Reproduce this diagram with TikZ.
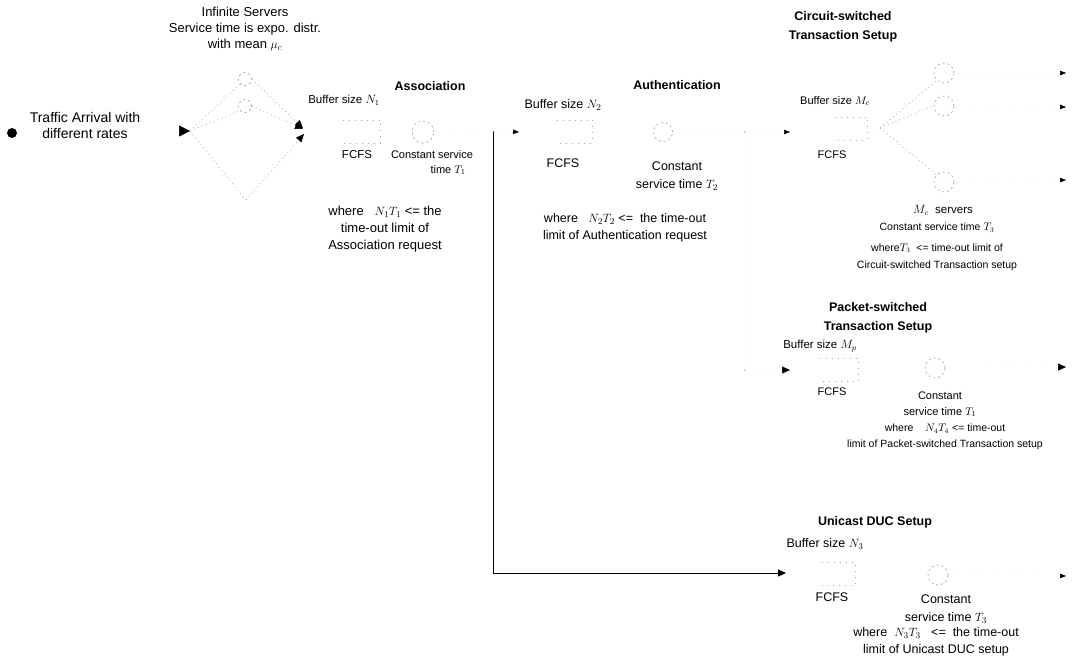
\documentclass[tikz,border=0pt]{standalone}
\usepackage{fontspec}
\setmainfont{Liberation Sans}
\usetikzlibrary{arrows.meta,calc}
\newcommand{\fs}[2]{\fontsize{#1}{#2}\selectfont}
\begin{document}
\begin{tikzpicture}[x=1pt,y=-1pt,
  faint/.style={draw=black!30, line width=0.6pt, dash pattern=on 1.2pt off 3pt},
  ghost/.style={draw=black!6, line width=0.5pt, dash pattern=on 1pt off 4pt},
  qline/.style={draw=black!35, line width=0.6pt, dash pattern=on 1pt off 5pt},
  qbox/.style={rectangle, draw=none, inner sep=0pt, minimum width=#1, minimum height=23pt},
  qbox/.default=36pt,
  server/.style={circle, draw=black!40, line width=0.6pt, dash pattern=on 2pt off 3pt,
                 minimum size=#1, inner sep=0pt},
  server/.default=20pt,
  bigtip/.style={-{Triangle[length=11pt,width=11pt,color=black]}},
  tip/.style={-{Triangle[length=8pt,width=7pt,color=black]}},
  smalltip/.style={-{Triangle[length=6pt,width=4.5pt,color=black]}},
  wire/.style={draw=black, line width=0.9pt},
  txt/.style={inner sep=0pt, align=center},
  ttl/.style={inner sep=0pt, align=center, font=\fs{12.5}{19}\bfseries},
]
\useasboundingbox (0,0) rectangle (1091,664);

% ---------- source and infinite-server stage ----------
\node[circle, fill=black, inner sep=0pt, minimum size=10pt] (src) at (12,133) {};
\node[txt, font=\fs{14}{16}] (arrlbl) at (85,125) {Traffic Arrival with\\different rates};

\coordinate (a0) at (176,131);
\coordinate (ent) at (190,131);
\node[server=13pt] (is1) at (245,79) {};
\node[server=13pt] (is2) at (245,106) {};
\coordinate (isb) at (246,200);
\coordinate (mrg) at (304,131);
\node[txt, font=\fs{13}{16}] (inflbl) at (245,29)
  {Infinite Servers\\Service time is expo. distr.\\with mean $\mu_c$};

\draw[ghost, bigtip] (a0) -- (ent);
\draw[faint] (ent) -- (is1.south west);
\draw[faint] (ent) -- (is2.south west);
\draw[faint] (ent) -- (isb);
\draw[faint, tip] (is1.east) -- ($(mrg)+(-1,-3)$);
\draw[faint, tip] (is2.east) -- ($(mrg)+(-1,-2)$);
\draw[faint, tip] (isb) -- ($(mrg)+(0,3)$);

% ---------- association ----------
\node[ttl] (asst) at (430,86) {Association};
\node[qbox=37pt] (q1) at (361.5,131.5) {};
\draw[qline] (q1.north west) -- (q1.north east) -- (q1.south east) -- (q1.south west);
\node[server=22pt] (s1) at (423,132) {};
\node[txt, font=\fs{11.5}{14}] at (344,100) {Buffer size $N_1$};
\node[txt, font=\fs{11.5}{14}] at (357,155) {FCFS};
\node[txt, font=\fs{11}{14}] at (432,155) {Constant service};
\node[txt, font=\fs{11}{14}] at (448,170) {time $T_1$};
\node[txt, font=\fs{13}{17}] at (385,229)
  {where ~ $N_1T_1$ <= the\\time-out limit of\\Association request};

% ---------- branching line ----------
\coordinate (jn) at (493,131);
\coordinate (jb) at (493,573);
\draw[ghost] (s1.east) -- (jn);
\draw[wire] (jn) -- (jb);

% ---------- authentication ----------
\node[ttl] (autt) at (677,85) {Authentication};
\coordinate (ain) at (519,132);
\draw[ghost, smalltip] (jn) -- (ain);
\node[qbox=35pt] (q2) at (574.5,131.5) {};
\draw[qline] (q2.north west) -- (q2.north east) -- (q2.south east) -- (q2.south west);
\node[server=19pt] (s2) at (663,132) {};
\node[txt, font=\fs{12.5}{14}] at (563,105) {Buffer size $N_2$};
\node[txt, font=\fs{12.5}{14}] at (563,163) {FCFS};
\node[txt, font=\fs{12.5}{18}] at (677,176) {Constant\\service time $T_2$};
\node[txt, font=\fs{12.5}{17}] at (625,228)
  {where ~ $N_2T_2$ <= ~the time-out\\limit of Authentication request};

\coordinate (sp) at (745,132);
\coordinate (cin) at (790,132);
\coordinate (sp2) at (745,370);
\coordinate (pin) at (790,370);
\draw[ghost] (s2.east) -- (sp);
\fill[black!35] (sp) circle (0.8pt);
\fill[black!35] (sp2) circle (0.8pt);
\draw[ghost, smalltip] (sp) -- (cin);
\draw[ghost] (sp) -- (sp2);
\draw[ghost, tip] (sp2) -- (pin);

% ---------- circuit-switched transaction setup ----------
\node[ttl] (cst) at (843,27) {Circuit-switched\\Transaction Setup};
\node[qbox=32pt] (q3) at (851,128.5) {};
\draw[qline] (q3.north west) -- (q3.north east) -- (q3.south east) -- (q3.south west);
\coordinate (fan) at (880,128);
\node[server] (c1) at (944,73) {};
\node[server] (c2) at (944,106) {};
\node[server] (c3) at (944,182) {};
\draw[ghost] (q3.east) -- (fan);
\draw[faint] (fan) -- (c1.south west);
\draw[faint] (fan) -- (c2.west);
\draw[faint] (fan) -- (c3.north west);
\coordinate (co1) at (1066,73);
\coordinate (co2) at (1066,107);
\coordinate (co3) at (1066,180);
\draw[ghost, smalltip] (c1.east) -- (co1);
\draw[ghost, smalltip] (c2.east) -- (co2);
\draw[ghost, smalltip] (c3.east) -- (co3);
\node[txt, font=\fs{11}{14}] at (835,101) {Buffer size $M_c$};
\node[txt, font=\fs{11}{14}] at (832,155) {FCFS};
\node[txt, font=\fs{11.5}{14}] at (943,210) {$M_c$ ~servers};
\node[txt, font=\fs{10.5}{14}] at (937,228) {Constant service time $T_3$};
\node[txt, font=\fs{10.5}{17}] at (937,257)
  {where$T_3$ ~<= time-out limit of\\Circuit-switched Transaction setup};

% ---------- packet-switched transaction setup ----------
\node[ttl] (pst) at (878,318) {Packet-switched\\Transaction Setup};
\node[qbox=38pt] (q4) at (839,370) {};
\draw[qline] (q4.north west) -- (q4.north east) -- (q4.south east) -- (q4.south west);
\node[server] (p1) at (935,368) {};
\coordinate (po) at (1066,367);
\draw[ghost, tip] (p1.east) -- (po);
\node[txt, font=\fs{11.5}{14}] at (820,346) {Buffer size $M_p$};
\node[txt, font=\fs{11}{14}] at (832,392) {FCFS};
\node[txt, font=\fs{11}{16}] at (940,404) {Constant\\service time $T_1$};
\node[txt, font=\fs{10.5}{16}] at (945,437)
  {where ~~ $N_4T_4$ <= time-out\\limit of Packet-switched Transaction setup};

% ---------- unicast DUC setup ----------
\node[ttl] (ust) at (875,522) {Unicast DUC Setup};
\coordinate (uin) at (786,573);
\draw[wire, tip] (jb) -- (uin);
\node[qbox=33pt] (q5) at (838.5,574) {};
\draw[qline] (q5.north west) -- (q5.north east) -- (q5.south east) -- (q5.south west);
\node[server] (u1) at (938,575) {};
\coordinate (uo) at (1066,576);
\draw[ghost, smalltip] (u1.east) -- (uo);
\node[txt, font=\fs{12.5}{14}] at (825,544) {Buffer size $N_3$};
\node[txt, font=\fs{12.5}{14}] at (832,597) {FCFS};
\node[txt, font=\fs{12.5}{18}] at (946,609) {Constant\\service time $T_3$};
\node[txt, font=\fs{12.5}{17}] at (936,642)
  {where ~$N_3T_3$ ~ <= ~the time-out\\limit of Unicast DUC setup};
\end{tikzpicture}
\end{document}
